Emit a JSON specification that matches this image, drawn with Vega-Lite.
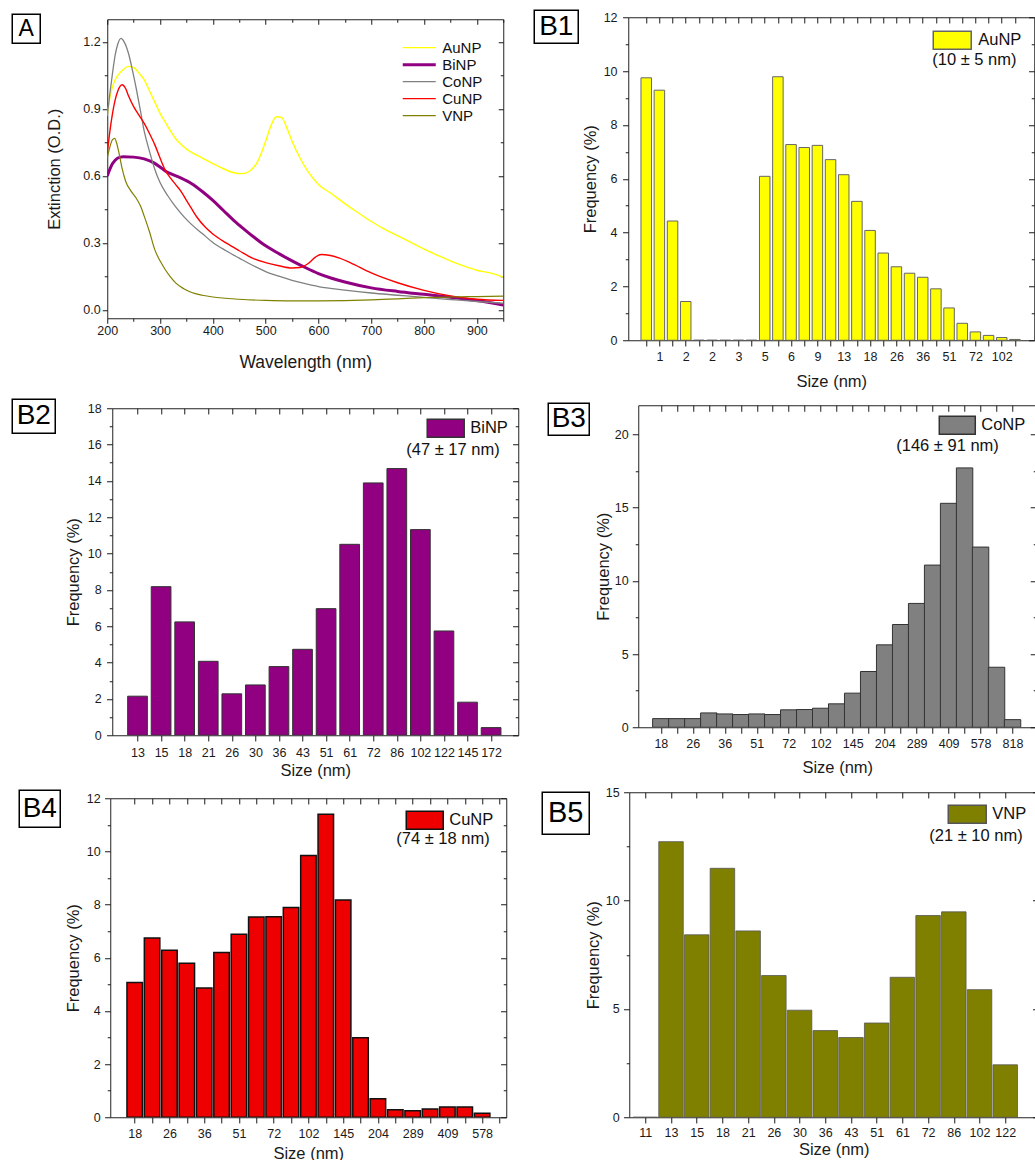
{
"$schema": "https://vega.github.io/schema/vega-lite/v6.json",
"background": "white",
"padding": {"left": 11.25, "top": 9.25, "right": 0, "bottom": 0},
"config": {
  "font": "Liberation Sans",
  "view": {"stroke": null},
  "axis": {"domain": false, "grid": false, "labelFont": "Liberation Sans", "titleFont": "Liberation Sans", "labelFontSize": 12.5, "labelColor": "#1a1a1a", "tickColor": "#1a1a1a", "tickWidth": 1, "titleFontWeight": "normal", "titleColor": "#1a1a1a", "titleFontSize": 16.5, "labelOverlap": false, "labelFlush": false},
  "legend": {"labelFont": "Liberation Sans", "titleFont": "Liberation Sans", "titleFontWeight": "normal", "labelColor": "#111", "titleColor": "#111", "padding": 0}
},
"resolve": {"scale": {"color": "independent", "strokeWidth": "independent"}, "legend": {"color": "independent", "strokeWidth": "independent"}},
"spacing": 14,
"hconcat": [
 {
  "resolve": {"scale": {"color": "independent", "strokeWidth": "independent"}, "legend": {"color": "independent", "strokeWidth": "independent"}},
  "spacing": 2,
  "vconcat": [
   {"width":1,"height":1,"mark":"point","data":{"values":[]}},
   {
    "resolve": {"scale": {"color": "independent", "strokeWidth": "independent"}, "legend": {"color": "independent", "strokeWidth": "independent"}},
    "spacing": 27,
    "vconcat": [
     {
      "resolve": {"scale": {"color": "independent", "strokeWidth": "independent"}, "legend": {"color": "independent", "strokeWidth": "independent"}},
      "spacing": 5,
      "hconcat": [
       {"width":28,"height":29,"view":{"stroke":"#000","strokeWidth":1.5},"data":{"values":[{"t":"A"}]},"mark":{"type":"text","fontSize":23,"font":"Liberation Sans","color":"#000"},"encoding":{"text":{"field":"t","type":"nominal"}}},
       {
        "resolve": {"scale": {"color": "independent", "strokeWidth": "independent"}, "legend": {"color": "independent", "strokeWidth": "independent"}},
        "spacing": 3,
        "vconcat": [
         {"width":1,"height":1,"mark":"point","data":{"values":[]}},
         {
          "width": 396, "height": 299,
          "view": {"stroke": "#222", "strokeWidth": 1},
          "data": {"values": [
            {"s":"AuNP","w":200,"e":0.87},{"s":"AuNP","w":205,"e":0.95},{"s":"AuNP","w":210,"e":1.0},{"s":"AuNP","w":215,"e":1.03},{"s":"AuNP","w":220,"e":1.05},{"s":"AuNP","w":230,"e":1.075},{"s":"AuNP","w":240,"e":1.09},{"s":"AuNP","w":250,"e":1.085},{"s":"AuNP","w":260,"e":1.06},{"s":"AuNP","w":270,"e":1.03},{"s":"AuNP","w":280,"e":0.98},{"s":"AuNP","w":290,"e":0.93},{"s":"AuNP","w":300,"e":0.88},{"s":"AuNP","w":310,"e":0.84},{"s":"AuNP","w":320,"e":0.8},{"s":"AuNP","w":330,"e":0.765},{"s":"AuNP","w":340,"e":0.74},{"s":"AuNP","w":350,"e":0.72},{"s":"AuNP","w":360,"e":0.705},{"s":"AuNP","w":380,"e":0.68},{"s":"AuNP","w":400,"e":0.655},{"s":"AuNP","w":420,"e":0.632},{"s":"AuNP","w":440,"e":0.614},{"s":"AuNP","w":455,"e":0.61},{"s":"AuNP","w":470,"e":0.622},{"s":"AuNP","w":485,"e":0.665},{"s":"AuNP","w":500,"e":0.755},{"s":"AuNP","w":510,"e":0.825},{"s":"AuNP","w":520,"e":0.865},{"s":"AuNP","w":530,"e":0.862},{"s":"AuNP","w":540,"e":0.815},{"s":"AuNP","w":550,"e":0.755},{"s":"AuNP","w":565,"e":0.68},{"s":"AuNP","w":580,"e":0.62},{"s":"AuNP","w":600,"e":0.562},{"s":"AuNP","w":625,"e":0.52},{"s":"AuNP","w":650,"e":0.476},{"s":"AuNP","w":675,"e":0.435},{"s":"AuNP","w":700,"e":0.396},{"s":"AuNP","w":725,"e":0.362},{"s":"AuNP","w":750,"e":0.332},{"s":"AuNP","w":775,"e":0.302},{"s":"AuNP","w":800,"e":0.272},{"s":"AuNP","w":825,"e":0.245},{"s":"AuNP","w":850,"e":0.22},{"s":"AuNP","w":875,"e":0.197},{"s":"AuNP","w":900,"e":0.178},{"s":"AuNP","w":925,"e":0.166},{"s":"AuNP","w":950,"e":0.148},
            {"s":"BiNP","w":200,"e":0.6},{"s":"BiNP","w":205,"e":0.63},{"s":"BiNP","w":210,"e":0.655},{"s":"BiNP","w":215,"e":0.67},{"s":"BiNP","w":220,"e":0.68},{"s":"BiNP","w":230,"e":0.686},{"s":"BiNP","w":250,"e":0.684},{"s":"BiNP","w":270,"e":0.676},{"s":"BiNP","w":290,"e":0.656},{"s":"BiNP","w":300,"e":0.64},{"s":"BiNP","w":310,"e":0.622},{"s":"BiNP","w":320,"e":0.61},{"s":"BiNP","w":340,"e":0.59},{"s":"BiNP","w":360,"e":0.565},{"s":"BiNP","w":380,"e":0.53},{"s":"BiNP","w":400,"e":0.49},{"s":"BiNP","w":420,"e":0.445},{"s":"BiNP","w":440,"e":0.4},{"s":"BiNP","w":460,"e":0.36},{"s":"BiNP","w":480,"e":0.322},{"s":"BiNP","w":500,"e":0.287},{"s":"BiNP","w":525,"e":0.252},{"s":"BiNP","w":550,"e":0.22},{"s":"BiNP","w":575,"e":0.19},{"s":"BiNP","w":600,"e":0.163},{"s":"BiNP","w":625,"e":0.142},{"s":"BiNP","w":650,"e":0.125},{"s":"BiNP","w":700,"e":0.099},{"s":"BiNP","w":750,"e":0.083},{"s":"BiNP","w":800,"e":0.07},{"s":"BiNP","w":850,"e":0.057},{"s":"BiNP","w":900,"e":0.042},{"s":"BiNP","w":950,"e":0.022},
            {"s":"CoNP","w":200,"e":0.87},{"s":"CoNP","w":205,"e":0.97},{"s":"CoNP","w":210,"e":1.06},{"s":"CoNP","w":215,"e":1.14},{"s":"CoNP","w":220,"e":1.19},{"s":"CoNP","w":226,"e":1.215},{"s":"CoNP","w":232,"e":1.2},{"s":"CoNP","w":240,"e":1.15},{"s":"CoNP","w":248,"e":1.07},{"s":"CoNP","w":255,"e":0.99},{"s":"CoNP","w":263,"e":0.89},{"s":"CoNP","w":270,"e":0.8},{"s":"CoNP","w":280,"e":0.71},{"s":"CoNP","w":290,"e":0.63},{"s":"CoNP","w":300,"e":0.57},{"s":"CoNP","w":315,"e":0.51},{"s":"CoNP","w":330,"e":0.46},{"s":"CoNP","w":345,"e":0.418},{"s":"CoNP","w":360,"e":0.382},{"s":"CoNP","w":380,"e":0.342},{"s":"CoNP","w":400,"e":0.302},{"s":"CoNP","w":425,"e":0.265},{"s":"CoNP","w":450,"e":0.232},{"s":"CoNP","w":475,"e":0.2},{"s":"CoNP","w":500,"e":0.172},{"s":"CoNP","w":525,"e":0.151},{"s":"CoNP","w":550,"e":0.133},{"s":"CoNP","w":575,"e":0.118},{"s":"CoNP","w":600,"e":0.105},{"s":"CoNP","w":650,"e":0.089},{"s":"CoNP","w":700,"e":0.076},{"s":"CoNP","w":750,"e":0.066},{"s":"CoNP","w":800,"e":0.056},{"s":"CoNP","w":850,"e":0.047},{"s":"CoNP","w":900,"e":0.038},{"s":"CoNP","w":950,"e":0.03},
            {"s":"CuNP","w":200,"e":0.7},{"s":"CuNP","w":205,"e":0.8},{"s":"CuNP","w":210,"e":0.88},{"s":"CuNP","w":215,"e":0.94},{"s":"CuNP","w":220,"e":0.98},{"s":"CuNP","w":228,"e":1.008},{"s":"CuNP","w":235,"e":0.99},{"s":"CuNP","w":240,"e":0.96},{"s":"CuNP","w":250,"e":0.91},{"s":"CuNP","w":260,"e":0.872},{"s":"CuNP","w":270,"e":0.835},{"s":"CuNP","w":280,"e":0.79},{"s":"CuNP","w":290,"e":0.74},{"s":"CuNP","w":300,"e":0.68},{"s":"CuNP","w":310,"e":0.625},{"s":"CuNP","w":320,"e":0.59},{"s":"CuNP","w":330,"e":0.56},{"s":"CuNP","w":340,"e":0.53},{"s":"CuNP","w":350,"e":0.49},{"s":"CuNP","w":360,"e":0.452},{"s":"CuNP","w":370,"e":0.415},{"s":"CuNP","w":385,"e":0.372},{"s":"CuNP","w":400,"e":0.34},{"s":"CuNP","w":425,"e":0.3},{"s":"CuNP","w":450,"e":0.265},{"s":"CuNP","w":475,"e":0.232},{"s":"CuNP","w":500,"e":0.212},{"s":"CuNP","w":525,"e":0.198},{"s":"CuNP","w":550,"e":0.188},{"s":"CuNP","w":565,"e":0.19},{"s":"CuNP","w":580,"e":0.207},{"s":"CuNP","w":595,"e":0.238},{"s":"CuNP","w":605,"e":0.248},{"s":"CuNP","w":620,"e":0.245},{"s":"CuNP","w":640,"e":0.232},{"s":"CuNP","w":660,"e":0.212},{"s":"CuNP","w":700,"e":0.166},{"s":"CuNP","w":750,"e":0.122},{"s":"CuNP","w":800,"e":0.088},{"s":"CuNP","w":850,"e":0.063},{"s":"CuNP","w":900,"e":0.048},{"s":"CuNP","w":950,"e":0.043},
            {"s":"VNP","w":200,"e":0.68},{"s":"VNP","w":205,"e":0.73},{"s":"VNP","w":210,"e":0.762},{"s":"VNP","w":214,"e":0.768},{"s":"VNP","w":218,"e":0.745},{"s":"VNP","w":222,"e":0.705},{"s":"VNP","w":228,"e":0.635},{"s":"VNP","w":235,"e":0.575},{"s":"VNP","w":245,"e":0.532},{"s":"VNP","w":255,"e":0.5},{"s":"VNP","w":263,"e":0.465},{"s":"VNP","w":270,"e":0.42},{"s":"VNP","w":280,"e":0.35},{"s":"VNP","w":290,"e":0.27},{"s":"VNP","w":300,"e":0.22},{"s":"VNP","w":310,"e":0.18},{"s":"VNP","w":320,"e":0.147},{"s":"VNP","w":330,"e":0.12},{"s":"VNP","w":345,"e":0.095},{"s":"VNP","w":360,"e":0.078},{"s":"VNP","w":380,"e":0.066},{"s":"VNP","w":400,"e":0.058},{"s":"VNP","w":450,"e":0.048},{"s":"VNP","w":500,"e":0.043},{"s":"VNP","w":550,"e":0.041},{"s":"VNP","w":600,"e":0.041},{"s":"VNP","w":650,"e":0.042},{"s":"VNP","w":700,"e":0.045},{"s":"VNP","w":750,"e":0.05},{"s":"VNP","w":800,"e":0.055},{"s":"VNP","w":850,"e":0.058},{"s":"VNP","w":900,"e":0.06},{"s":"VNP","w":950,"e":0.062}
          ]},
          "layer": [
            {
              "mark": {"type": "line", "interpolate": "monotone", "clip": true},
              "encoding": {
                "x": {"field": "w", "type": "quantitative", "scale": {"domain": [200, 950], "nice": false, "zero": false},
                      "axis": {"title": "Wavelength (nm)", "titleFontSize": 17.5, "values": [200,250,300,350,400,450,500,550,600,650,700,750,800,850,900,950], "labelExpr": "datum.value % 100 == 0 ? datum.label : ''", "tickSize": {"condition": {"test": "datum.value % 100 != 0", "value": 3}, "value": 5}, "labelPadding": 1.5, "titlePadding": 15.9}},
                "y": {"field": "e", "type": "quantitative", "scale": {"domain": [-0.037, 1.301], "nice": false, "zero": false},
                      "axis": {"title": "Extinction (O.D.)", "values": [0,0.15,0.3,0.45,0.6,0.75,0.9,1.05,1.2], "format": ".1f", "labelExpr": "round(datum.value*100) % 30 == 0 ? datum.label : ''", "tickSize": {"condition": {"test": "round(datum.value*100) % 30 != 0", "value": 3}, "value": 5}, "labelPadding": 2, "titlePadding": 20}},
                "color": {"field": "s", "type": "nominal", "scale": {"domain": ["AuNP","BiNP","CoNP","CuNP","VNP"], "range": ["#ffff00","#900080","#808080","#ff0000","#808000"]},
                      "legend": {"orient": "top-right", "offset": 20, "title": null, "labelFontSize": 15, "symbolType": "stroke", "symbolSize": 1089, "clipHeight": 16.8, "rowPadding": 0, "labelOffset": 5, "padding": 0}},
                "strokeWidth": {"field": "s", "type": "nominal", "scale": {"type": "ordinal", "domain": ["AuNP","BiNP","CoNP","CuNP","VNP"], "range": [1.4, 3, 1.3, 1.4, 1.2]}}
              }
            },
            {
              "mark": {"type": "point", "opacity": 0},
              "encoding": {
                "x": {"field": "w", "type": "quantitative", "scale": {"domain": [200, 950], "nice": false, "zero": false},
                      "axis": {"orient": "top", "title": null, "labels": false, "values": [200,250,300,350,400,450,500,550,600,650,700,750,800,850,900,950], "tickSize": {"condition": {"test": "datum.value % 100 != 0", "value": -3}, "value": -5}}},
                "y": {"field": "e", "type": "quantitative", "scale": {"domain": [-0.037, 1.301], "nice": false, "zero": false},
                      "axis": {"orient": "right", "title": null, "labels": false, "values": [0,0.15,0.3,0.45,0.6,0.75,0.9,1.05,1.2], "tickSize": {"condition": {"test": "round(datum.value*100) % 30 != 0", "value": -3}, "value": -5}}}
              }
            }
          ],
          "resolve": {"axis": {"x": "independent", "y": "independent"}}
         }
        ]
       }
      ]
     },
     {
      "resolve": {"scale": {"color": "independent", "strokeWidth": "independent"}, "legend": {"color": "independent", "strokeWidth": "independent"}},
      "spacing": 10,
      "vconcat": [
       {
        "resolve": {"scale": {"color": "independent", "strokeWidth": "independent"}, "legend": {"color": "independent", "strokeWidth": "independent"}},
        "spacing": 8,
        "hconcat": [
         {"width":43,"height":34,"view":{"stroke":"#000","strokeWidth":1.5},"data":{"values":[{"t":"B2"}]},"mark":{"type":"text","fontSize":28,"font":"Liberation Sans","color":"#000"},"encoding":{"text":{"field":"t","type":"nominal"}}},
         {
          "resolve": {"scale": {"color": "independent", "strokeWidth": "independent"}, "legend": {"color": "independent", "strokeWidth": "independent"}},
          "spacing": 1,
          "vconcat": [
           {"width":1,"height":1,"mark":"point","data":{"values":[]}},
           {
            "width": 406, "height": 327,
            "view": {"stroke": "#222", "strokeWidth": 1},
            "data": {"values": [
              {"i":0,"f":2.15,"s":"BiNP"},{"i":1,"f":8.18,"s":"BiNP"},{"i":2,"f":6.24,"s":"BiNP"},{"i":3,"f":4.07,"s":"BiNP"},{"i":4,"f":2.28,"s":"BiNP"},{"i":5,"f":2.77,"s":"BiNP"},{"i":6,"f":3.78,"s":"BiNP"},{"i":7,"f":4.73,"s":"BiNP"},{"i":8,"f":6.97,"s":"BiNP"},{"i":9,"f":10.51,"s":"BiNP"},{"i":10,"f":13.89,"s":"BiNP"},{"i":11,"f":14.68,"s":"BiNP"},{"i":12,"f":11.32,"s":"BiNP"},{"i":13,"f":5.74,"s":"BiNP"},{"i":14,"f":1.82,"s":"BiNP"},{"i":15,"f":0.42,"s":"BiNP"}
            ]},
            "layer": [
              {
                "mark": {"type": "bar", "orient": "vertical", "width": 19.7, "stroke": "#333", "strokeWidth": 1, "clip": true},
                "encoding": {
                  "x": {"field": "i", "type": "quantitative", "scale": {"domain": [-0.86, 15.94], "nice": false, "zero": false},
                        "axis": {"title": "Size (nm)", "values": [0,1,2,3,4,5,6,7,8,9,10,11,12,13,14,15], "labelExpr": "['13','15','18','21','26','30','36','43','51','61','72','86','102','122','145','172'][datum.value]", "tickSize": 5.7, "labelPadding": 6, "titlePadding": 2.7}},
                  "y": {"field": "f", "type": "quantitative", "scale": {"domain": [0, 18], "nice": false},
                        "axis": {"title": "Frequency (%)", "values": [0,1,2,3,4,5,6,7,8,9,10,11,12,13,14,15,16,17,18], "labelExpr": "datum.value % 2 == 0 ? datum.label : ''", "tickSize": {"condition": {"test": "datum.value % 2 != 0", "value": 3}, "value": 5.7}, "labelPadding": 5.3, "titlePadding": 5.7}},
                  "color": {"field": "s", "type": "nominal", "scale": {"range": ["#900080"]},
                        "legend": {"orient": "top-right", "offset": 10, "title": "(47 ± 17 nm)", "titleOrient": "bottom", "titleAnchor": "start", "titleFontSize": 16.5, "titlePadding": 2, "labelFontSize": 16.5, "labelOffset": 44, "symbolType": "M1.22,-1H5.33V1H1.22Z", "symbolSize": 324, "padding": 0}}
                }
              },
              {
                "mark": {"type": "point", "opacity": 0},
                "encoding": {
                  "x": {"field": "i", "type": "quantitative", "scale": {"domain": [-0.86, 15.94], "nice": false, "zero": false},
                        "axis": {"orient": "top", "title": null, "labels": false, "values": [0,1,2,3,4,5,6,7,8,9,10,11,12,13,14,15], "tickSize": -5.7}},
                  "y": {"field": "f", "type": "quantitative", "scale": {"domain": [0, 18], "nice": false},
                        "axis": {"orient": "right", "title": null, "labels": false, "values": [0,1,2,3,4,5,6,7,8,9,10,11,12,13,14,15,16,17,18], "tickSize": {"condition": {"test": "datum.value % 2 != 0", "value": -3}, "value": -5.7}}}
                }
              }
            ],
            "resolve": {"axis": {"x": "independent", "y": "independent"}}
           }
          ]
         }
        ]
       },
       {
        "resolve": {"scale": {"color": "independent", "strokeWidth": "independent"}, "legend": {"color": "independent", "strokeWidth": "independent"}},
        "spacing": 5,
        "hconcat": [
         {"width":1,"height":1,"mark":"point","data":{"values":[]}},
         {
          "resolve": {"scale": {"color": "independent", "strokeWidth": "independent"}, "legend": {"color": "independent", "strokeWidth": "independent"}},
          "spacing": 4,
          "hconcat": [
           {"width":41,"height":37,"view":{"stroke":"#000","strokeWidth":1.5},"data":{"values":[{"t":"B4"}]},"mark":{"type":"text","fontSize":28,"font":"Liberation Sans","color":"#000"},"encoding":{"text":{"field":"t","type":"nominal"}}},
           {
            "resolve": {"scale": {"color": "independent", "strokeWidth": "independent"}, "legend": {"color": "independent", "strokeWidth": "independent"}},
            "spacing": 0,
            "vconcat": [
             {"width":1,"height":1,"mark":"point","data":{"values":[]}},
             {
              "width": 396, "height": 319,
              "view": {"stroke": "#222", "strokeWidth": 1},
              "data": {"values": [
                {"i":0,"f":5.07,"s":"CuNP"},{"i":1,"f":6.74,"s":"CuNP"},{"i":2,"f":6.28,"s":"CuNP"},{"i":3,"f":5.79,"s":"CuNP"},{"i":4,"f":4.86,"s":"CuNP"},{"i":5,"f":6.2,"s":"CuNP"},{"i":6,"f":6.88,"s":"CuNP"},{"i":7,"f":7.53,"s":"CuNP"},{"i":8,"f":7.54,"s":"CuNP"},{"i":9,"f":7.89,"s":"CuNP"},{"i":10,"f":9.85,"s":"CuNP"},{"i":11,"f":11.4,"s":"CuNP"},{"i":12,"f":8.17,"s":"CuNP"},{"i":13,"f":2.99,"s":"CuNP"},{"i":14,"f":0.7,"s":"CuNP"},{"i":15,"f":0.28,"s":"CuNP"},{"i":16,"f":0.24,"s":"CuNP"},{"i":17,"f":0.31,"s":"CuNP"},{"i":18,"f":0.39,"s":"CuNP"},{"i":19,"f":0.39,"s":"CuNP"},{"i":20,"f":0.15,"s":"CuNP"}
              ]},
              "layer": [
                {
                  "mark": {"type": "bar", "orient": "vertical", "width": 15.5, "stroke": "#111", "strokeWidth": 1.5, "clip": true},
                  "encoding": {
                    "x": {"field": "i", "type": "quantitative", "scale": {"domain": [-1.12, 21.1], "nice": false, "zero": false},
                          "axis": {"title": "Size (nm)", "values": [0,1,2,3,4,5,6,7,8,9,10,11,12,13,14,15,16,17,18,19,20,21], "labelExpr": "['18','','26','','36','','51','','72','','102','','145','','204','','289','','409','','578','',''][datum.value]", "tickSize": 5.7, "labelPadding": 5, "titlePadding": 5.3}},
                    "y": {"field": "f", "type": "quantitative", "scale": {"domain": [0, 12], "nice": false},
                          "axis": {"title": "Frequency (%)", "values": [0,1,2,3,4,5,6,7,8,9,10,11,12], "labelExpr": "datum.value % 2 == 0 ? datum.label : ''", "tickSize": {"condition": {"test": "datum.value % 2 != 0", "value": 3}, "value": 5.7}, "labelPadding": 4.3, "titlePadding": 4.5}},
                    "color": {"field": "s", "type": "nominal", "scale": {"range": ["#ee0000"]},
                          "legend": {"orient": "top-right", "offset": 12, "title": "(74 ± 18 nm)", "titleOrient": "bottom", "titleAnchor": "start", "titleFontSize": 16.5, "titlePadding": -1, "labelFontSize": 16.5, "labelOffset": 33, "symbolType": "M0,-1H4.11V1H0Z", "symbolSize": 324, "padding": 0}}
                  }
                },
                {
                  "mark": {"type": "point", "opacity": 0},
                  "encoding": {
                    "x": {"field": "i", "type": "quantitative", "scale": {"domain": [-1.12, 21.1], "nice": false, "zero": false},
                          "axis": {"orient": "top", "title": null, "labels": false, "values": [0,1,2,3,4,5,6,7,8,9,10,11,12,13,14,15,16,17,18,19,20,21], "tickSize": -5.7}},
                    "y": {"field": "f", "type": "quantitative", "scale": {"domain": [0, 12], "nice": false},
                          "axis": {"orient": "right", "title": null, "labels": false, "values": [0,1,2,3,4,5,6,7,8,9,10,11,12], "tickSize": {"condition": {"test": "datum.value % 2 != 0", "value": -3}, "value": -5.7}}}
                  }
                }
              ],
              "resolve": {"axis": {"x": "independent", "y": "independent"}}
             }
            ]
           }
          ]
         }
        ]
       }
      ]
     }
    ]
   }
  ]
 },
 {
  "resolve": {"scale": {"color": "independent", "strokeWidth": "independent"}, "legend": {"color": "independent", "strokeWidth": "independent"}},
  "spacing": 11,
  "vconcat": [
   {
    "resolve": {"scale": {"color": "independent", "strokeWidth": "independent"}, "legend": {"color": "independent", "strokeWidth": "independent"}},
    "spacing": 2,
    "hconcat": [
     {"width":44,"height":33,"view":{"stroke":"#000","strokeWidth":1.5},"data":{"values":[{"t":"B1"}]},"mark":{"type":"text","fontSize":28,"font":"Liberation Sans","color":"#000"},"encoding":{"text":{"field":"t","type":"nominal"}}},
     {
      "resolve": {"scale": {"color": "independent", "strokeWidth": "independent"}, "legend": {"color": "independent", "strokeWidth": "independent"}},
      "spacing": -1,
      "vconcat": [
       {"width":1,"height":1,"mark":"point","data":{"values":[]}},
       {
        "width": 406, "height": 323,
        "view": {"stroke": "#222", "strokeWidth": 1},
        "data": {"values": [
          {"i":0,"f":9.75,"s":"AuNP"},{"i":1,"f":9.29,"s":"AuNP"},{"i":2,"f":4.43,"s":"AuNP"},{"i":3,"f":1.44,"s":"AuNP"},{"i":4,"f":0,"s":"AuNP"},{"i":5,"f":0,"s":"AuNP"},{"i":6,"f":0,"s":"AuNP"},{"i":7,"f":0,"s":"AuNP"},{"i":8,"f":0,"s":"AuNP"},{"i":9,"f":6.09,"s":"AuNP"},{"i":10,"f":9.79,"s":"AuNP"},{"i":11,"f":7.27,"s":"AuNP"},{"i":12,"f":7.16,"s":"AuNP"},{"i":13,"f":7.24,"s":"AuNP"},{"i":14,"f":6.71,"s":"AuNP"},{"i":15,"f":6.15,"s":"AuNP"},{"i":16,"f":5.16,"s":"AuNP"},{"i":17,"f":4.08,"s":"AuNP"},{"i":18,"f":3.24,"s":"AuNP"},{"i":19,"f":2.73,"s":"AuNP"},{"i":20,"f":2.49,"s":"AuNP"},{"i":21,"f":2.34,"s":"AuNP"},{"i":22,"f":1.91,"s":"AuNP"},{"i":23,"f":1.2,"s":"AuNP"},{"i":24,"f":0.63,"s":"AuNP"},{"i":25,"f":0.31,"s":"AuNP"},{"i":26,"f":0.18,"s":"AuNP"},{"i":27,"f":0.1,"s":"AuNP"},{"i":28,"f":0.03,"s":"AuNP"}
        ]},
        "layer": [
          {
            "mark": {"type": "bar", "orient": "vertical", "width": 10.5, "stroke": "#666", "strokeWidth": 1, "clip": true},
            "encoding": {
              "x": {"field": "i", "type": "quantitative", "scale": {"domain": [-0.985, 29.09], "nice": false, "zero": false},
                    "axis": {"title": "Size (nm)", "values": [0,1,2,3,4,5,6,7,8,9,10,11,12,13,14,15,16,17,18,19,20,21,22,23,24,25,26,27,28], "labelExpr": "['','1','','2','','2','','3','','5','','6','','9','','13','','18','','26','','36','','51','','72','','102',''][datum.value]", "tickSize": 5.7, "labelPadding": 5, "titlePadding": 10}},
              "y": {"field": "f", "type": "quantitative", "scale": {"domain": [0, 12], "nice": false},
                    "axis": {"title": "Frequency (%)", "values": [0,1,2,3,4,5,6,7,8,9,10,11,12], "labelExpr": "datum.value % 2 == 0 ? datum.label : ''", "tickSize": {"condition": {"test": "datum.value % 2 != 0", "value": 3}, "value": 5.7}, "labelPadding": 5.5, "titlePadding": 4.5}},
              "color": {"field": "s", "type": "nominal", "scale": {"range": ["#ffff00"]},
                    "legend": {"orient": "top-right", "offset": 12.5, "title": "(10 ± 5 nm)", "titleOrient": "bottom", "titleAnchor": "start", "titleFontSize": 16.5, "titlePadding": 0, "labelFontSize": 16.5, "labelOffset": 26, "symbolType": "M-1,-1H3.22V1H-1Z", "symbolSize": 324, "padding": 0}}
            }
          },
          {
            "mark": {"type": "point", "opacity": 0},
            "encoding": {
              "x": {"field": "i", "type": "quantitative", "scale": {"domain": [-0.985, 29.09], "nice": false, "zero": false},
                    "axis": {"orient": "top", "title": null, "labels": false, "values": [0,1,2,3,4,5,6,7,8,9,10,11,12,13,14,15,16,17,18,19,20,21,22,23,24,25,26,27,28], "tickSize": -5.7}},
              "y": {"field": "f", "type": "quantitative", "scale": {"domain": [0, 12], "nice": false},
                    "axis": {"orient": "right", "title": null, "labels": false, "values": [0,1,2,3,4,5,6,7,8,9,10,11,12], "tickSize": {"condition": {"test": "datum.value % 2 != 0", "value": -3}, "value": -5.7}}}
            }
          }
        ],
        "resolve": {"axis": {"x": "independent", "y": "independent"}}
       }
      ]
     }
    ]
   },
   {
    "resolve": {"scale": {"color": "independent", "strokeWidth": "independent"}, "legend": {"color": "independent", "strokeWidth": "independent"}},
    "spacing": 9,
    "vconcat": [
     {
      "resolve": {"scale": {"color": "independent", "strokeWidth": "independent"}, "legend": {"color": "independent", "strokeWidth": "independent"}},
      "spacing": 12,
      "hconcat": [
       {"width":1,"height":1,"mark":"point","data":{"values":[]}},
       {
        "resolve": {"scale": {"color": "independent", "strokeWidth": "independent"}, "legend": {"color": "independent", "strokeWidth": "independent"}},
        "spacing": 4,
        "hconcat": [
         {"width":41,"height":32,"view":{"stroke":"#000","strokeWidth":1.5},"data":{"values":[{"t":"B3"}]},"mark":{"type":"text","fontSize":28,"font":"Liberation Sans","color":"#000"},"encoding":{"text":{"field":"t","type":"nominal"}}},
         {
          "resolve": {"scale": {"color": "independent", "strokeWidth": "independent"}, "legend": {"color": "independent", "strokeWidth": "independent"}},
          "spacing": 0,
          "vconcat": [
           {"width":1,"height":1,"mark":"point","data":{"values":[]}},
           {
            "width": 398, "height": 322,
            "view": {"stroke": "#222", "strokeWidth": 1},
            "data": {"values": [
              {"i":0,"f":0.59,"s":"CoNP"},{"i":1,"f":0.59,"s":"CoNP"},{"i":2,"f":0.59,"s":"CoNP"},{"i":3,"f":0.98,"s":"CoNP"},{"i":4,"f":0.91,"s":"CoNP"},{"i":5,"f":0.87,"s":"CoNP"},{"i":6,"f":0.91,"s":"CoNP"},{"i":7,"f":0.87,"s":"CoNP"},{"i":8,"f":1.19,"s":"CoNP"},{"i":9,"f":1.21,"s":"CoNP"},{"i":10,"f":1.3,"s":"CoNP"},{"i":11,"f":1.6,"s":"CoNP"},{"i":12,"f":2.33,"s":"CoNP"},{"i":13,"f":3.81,"s":"CoNP"},{"i":14,"f":5.63,"s":"CoNP"},{"i":15,"f":7.02,"s":"CoNP"},{"i":16,"f":8.46,"s":"CoNP"},{"i":17,"f":11.08,"s":"CoNP"},{"i":18,"f":15.3,"s":"CoNP"},{"i":19,"f":17.72,"s":"CoNP"},{"i":20,"f":12.31,"s":"CoNP"},{"i":21,"f":4.1,"s":"CoNP"},{"i":22,"f":0.52,"s":"CoNP"}
            ]},
            "layer": [
              {
                "mark": {"type": "bar", "orient": "vertical", "width": 16.4, "stroke": "#333", "strokeWidth": 1, "clip": true},
                "encoding": {
                  "x": {"field": "i", "type": "quantitative", "scale": {"domain": [-1.1, 23.17], "nice": false, "zero": false},
                        "axis": {"title": "Size (nm)", "values": [0,1,2,3,4,5,6,7,8,9,10,11,12,13,14,15,16,17,18,19,20,21,22], "labelExpr": "['18','','26','','36','','51','','72','','102','','145','','204','','289','','409','','578','','818'][datum.value]", "tickSize": 6, "labelPadding": 4.3, "titlePadding": 9}},
                  "y": {"field": "f", "type": "quantitative", "scale": {"domain": [0, 22], "nice": false},
                        "axis": {"title": "Frequency (%)", "values": [0,2.5,5,7.5,10,12.5,15,17.5,20], "labelExpr": "datum.value % 5 == 0 ? datum.label : ''", "tickSize": {"condition": {"test": "datum.value % 5 != 0", "value": 3}, "value": 6}, "labelPadding": 4, "titlePadding": 2.7}},
                  "color": {"field": "s", "type": "nominal", "scale": {"range": ["#808080"]},
                        "legend": {"orient": "top-right", "offset": 10, "title": "(146 ± 91 nm)", "titleOrient": "bottom", "titleAnchor": "start", "titleFontSize": 16.5, "titlePadding": 1, "labelFontSize": 16.5, "labelOffset": 65, "symbolType": "M3.67,-1H7.67V1H3.67Z", "symbolSize": 324, "padding": 0}}
                }
              },
              {
                "mark": {"type": "point", "opacity": 0},
                "encoding": {
                  "x": {"field": "i", "type": "quantitative", "scale": {"domain": [-1.1, 23.17], "nice": false, "zero": false},
                        "axis": {"orient": "top", "title": null, "labels": false, "values": [0,1,2,3,4,5,6,7,8,9,10,11,12,13,14,15,16,17,18,19,20,21,22], "tickSize": -6}},
                  "y": {"field": "f", "type": "quantitative", "scale": {"domain": [0, 22], "nice": false},
                        "axis": {"orient": "right", "title": null, "labels": false, "values": [0,2.5,5,7.5,10,12.5,15,17.5,20], "tickSize": {"condition": {"test": "datum.value % 5 != 0", "value": -3}, "value": -6}}}
                }
              }
            ],
            "resolve": {"axis": {"x": "independent", "y": "independent"}}
           }
          ]
         }
        ]
       }
      ]
     },
     {
      "resolve": {"scale": {"color": "independent", "strokeWidth": "independent"}, "legend": {"color": "independent", "strokeWidth": "independent"}},
      "spacing": 6,
      "hconcat": [
       {"width":1,"height":1,"mark":"point","data":{"values":[]}},
       {
        "resolve": {"scale": {"color": "independent", "strokeWidth": "independent"}, "legend": {"color": "independent", "strokeWidth": "independent"}},
        "spacing": -6,
        "hconcat": [
         {"width":47,"height":42,"view":{"stroke":"#000","strokeWidth":1.5},"data":{"values":[{"t":"B5"}]},"mark":{"type":"text","fontSize":29,"font":"Liberation Sans","color":"#000"},"encoding":{"text":{"field":"t","type":"nominal"}}},
         {
          "width": 409, "height": 325,
          "view": {"stroke": "#222", "strokeWidth": 1},
          "data": {"values": [
            {"i":0,"f":0,"s":"VNP"},{"i":1,"f":12.72,"s":"VNP"},{"i":2,"f":8.42,"s":"VNP"},{"i":3,"f":11.49,"s":"VNP"},{"i":4,"f":8.6,"s":"VNP"},{"i":5,"f":6.54,"s":"VNP"},{"i":6,"f":4.94,"s":"VNP"},{"i":7,"f":4.0,"s":"VNP"},{"i":8,"f":3.68,"s":"VNP"},{"i":9,"f":4.35,"s":"VNP"},{"i":10,"f":6.46,"s":"VNP"},{"i":11,"f":9.31,"s":"VNP"},{"i":12,"f":9.48,"s":"VNP"},{"i":13,"f":5.89,"s":"VNP"},{"i":14,"f":2.42,"s":"VNP"}
          ]},
          "layer": [
            {
              "mark": {"type": "bar", "orient": "vertical", "width": 24.5, "stroke": "#555", "strokeWidth": 0.8, "clip": true},
              "encoding": {
                "x": {"field": "i", "type": "quantitative", "scale": {"domain": [-0.43, 15.09], "nice": false, "zero": false},
                      "axis": {"title": "Size (nm)", "values": [0,1,2,3,4,5,6,7,8,9,10,11,12,13,14], "labelExpr": "['11','13','15','18','21','26','30','36','43','51','61','72','86','102','122'][datum.value]", "tickSize": 5.7, "labelPadding": 4, "titlePadding": 2}},
                "y": {"field": "f", "type": "quantitative", "scale": {"domain": [0, 15], "nice": false},
                      "axis": {"title": "Frequency (%)", "values": [0,2.5,5,7.5,10,12.5,15], "labelExpr": "datum.value % 5 == 0 ? datum.label : ''", "tickSize": {"condition": {"test": "datum.value % 5 != 0", "value": 3}, "value": 5.7}, "labelPadding": 4.4, "titlePadding": 4.2}},
                "color": {"field": "s", "type": "nominal", "scale": {"range": ["#808000"]},
                      "legend": {"orient": "top-right", "offset": 12, "title": "(21 ± 10 nm)", "titleOrient": "bottom", "titleAnchor": "start", "titleFontSize": 16.5, "titlePadding": 2, "labelFontSize": 16.5, "labelOffset": 43, "symbolType": "M1,-1H5.22V1H1Z", "symbolSize": 324, "padding": 0}}
              }
            },
            {
              "mark": {"type": "point", "opacity": 0},
              "encoding": {
                "x": {"field": "i", "type": "quantitative", "scale": {"domain": [-0.43, 15.09], "nice": false, "zero": false},
                      "axis": {"orient": "top", "title": null, "labels": false, "values": [0,1,2,3,4,5,6,7,8,9,10,11,12,13,14], "tickSize": -5.7}},
                "y": {"field": "f", "type": "quantitative", "scale": {"domain": [0, 15], "nice": false},
                      "axis": {"orient": "right", "title": null, "labels": false, "values": [0,2.5,5,7.5,10,12.5,15], "tickSize": {"condition": {"test": "datum.value % 5 != 0", "value": -3}, "value": -5.7}}}
              }
            }
          ],
          "resolve": {"axis": {"x": "independent", "y": "independent"}}
         }
        ]
       }
      ]
     }
    ]
   }
  ]
 }
]
}
